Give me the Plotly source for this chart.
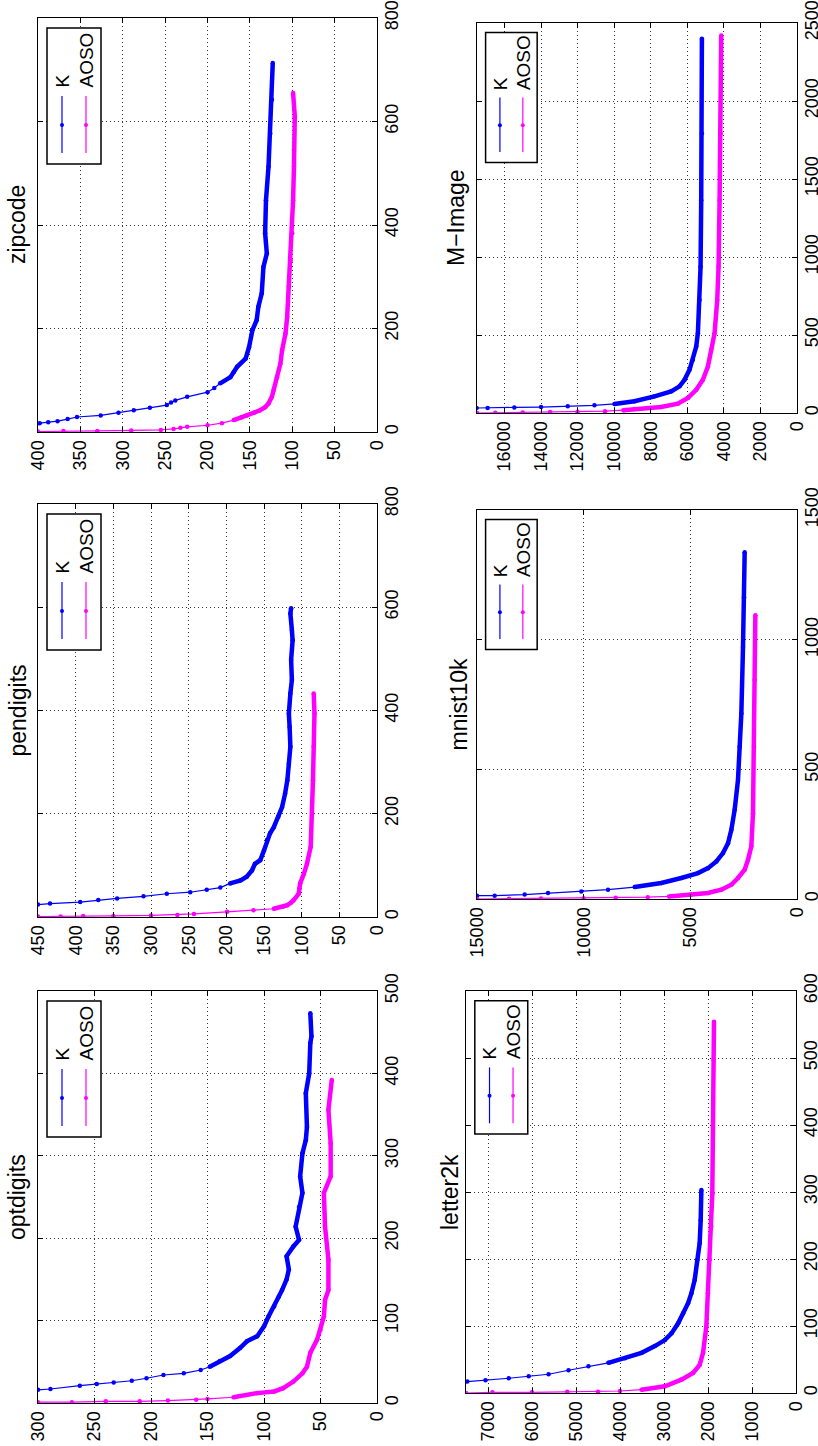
import plotly.graph_objects as go

W, H = 818, 1446
BLUE = "#0000FF"
MAG = "#FF00FF"
FONT = "Liberation Sans, Arial, Helvetica, sans-serif"

# ------------------------------------------------------------------ data
# each series: iteration index (it) and test-error value (val)
zip_k_it = [17, 19, 21, 25, 29, 32, 37, 42, 47, 52, 57, 61, 68, 77, 85, 94, 106, 116, 126, 142, 164, 197, 216, 242, 268, 319, 345, 384, 448, 513, 577, 642, 713]
zip_k_val = [398, 388, 377, 365, 354, 326, 305, 287, 268, 248, 243, 238, 224, 200, 192, 185, 173, 169, 165, 155, 151, 147, 142, 140, 136, 134, 130, 132, 131, 128, 126, 124, 123]
zip_a_it = [1, 2, 2, 3, 4, 6, 8, 10, 13, 17, 23, 28, 32, 37, 42, 48, 55, 68, 81, 106, 132, 158, 190, 222, 281, 332, 384, 448, 513, 545, 610, 655]
zip_a_val = [400, 370, 330, 290, 255, 240, 232, 224, 200, 183, 169, 160, 153, 145, 138, 132, 128, 124, 122, 118, 114, 112, 108, 106, 104, 102, 100, 99, 98, 98, 97, 99]

pen_k_it = [24, 26, 29, 33, 36, 40, 45, 48, 53, 57, 65, 71, 78, 90, 103, 110, 129, 149, 162, 174, 194, 213, 239, 265, 297, 330, 368, 394, 433, 459, 498, 536, 556, 588, 598]
pen_k_val = [450, 434, 394, 370, 345, 310, 279, 248, 226, 208, 195, 181, 173, 166, 162, 155, 150, 146, 142, 137, 131, 126, 122, 119, 117, 115, 116, 117, 115, 113, 114, 112, 113, 115, 114]
pen_a_it = [1, 1, 2, 2, 3, 4, 6, 10, 13, 16, 20, 23, 28, 32, 45, 55, 65, 84, 103, 136, 200, 265, 330, 394, 433]
pen_a_val = [450, 420, 390, 350, 300, 265, 243, 199, 164, 137, 125, 119, 114, 111, 104, 103, 102, 97, 93, 88, 86, 85, 84, 83, 84]

opt_k_it = [16, 17, 21, 23, 25, 27, 30, 34, 36, 40, 44, 51, 57, 67, 75, 81, 93, 105, 117, 129, 137, 150, 162, 178, 190, 198, 214, 238, 255, 275, 303, 319, 335, 376, 400, 437, 445, 473]
opt_k_val = [300, 289, 263, 248, 233, 217, 204, 189, 171, 156, 148, 139, 130, 121, 115, 106, 100, 96, 91, 87, 84, 80, 78, 80, 74, 69, 72, 69, 66, 68, 66, 63, 62, 63, 60, 59, 58, 59]
opt_a_it = [1, 1, 2, 2, 3, 4, 5, 7, 12, 14, 18, 26, 36, 44, 61, 77, 89, 105, 125, 137, 174, 214, 255, 275, 315, 356, 392]
opt_a_val = [300, 270, 240, 210, 185, 160, 150, 127, 106, 91, 83, 74, 66, 62, 59, 53, 50, 47, 46, 43, 43, 46, 47, 41, 41, 43, 40]

let_k_it = [17, 19, 22, 25, 28, 34, 40, 45, 52, 60, 70, 79, 89, 104, 119, 134, 149, 169, 199, 224, 258, 303]
let_k_val = [7470, 7057, 6528, 6075, 5623, 5170, 4717, 4264, 3887, 3509, 3208, 2981, 2830, 2679, 2566, 2453, 2377, 2302, 2241, 2189, 2166, 2151]
let_a_it = [0, 1, 1, 2, 2, 3, 5, 10, 20, 30, 42, 60, 99, 149, 199, 248, 298, 397, 497, 554]
let_a_val = [7500, 6900, 6000, 5200, 4500, 4000, 3509, 2981, 2604, 2340, 2189, 2113, 2038, 2000, 1962, 1925, 1902, 1887, 1872, 1864]

mni_k_it = [13, 13, 17, 23, 29, 36, 46, 62, 81, 100, 119, 145, 177, 215, 267, 344, 459, 587, 715, 972, 1164, 1337]
mni_k_val = [15000, 14172, 12766, 11672, 10109, 8859, 7609, 6359, 5422, 4641, 4172, 3781, 3469, 3234, 3078, 2922, 2766, 2688, 2609, 2531, 2484, 2453]
mni_a_it = [0, 1, 2, 3, 5, 7, 10, 17, 23, 36, 55, 81, 113, 151, 203, 331, 587, 844, 1094]
mni_a_val = [15000, 13500, 12000, 10000, 8500, 7000, 6000, 4953, 4172, 3547, 3078, 2766, 2453, 2297, 2141, 2063, 2016, 1984, 1953]

mim_k_it = [32, 32, 36, 38, 43, 49, 58, 75, 107, 139, 171, 213, 277, 341, 426, 512, 725, 938, 1364, 1791, 2399]
mim_k_val = [17520, 16918, 15458, 13998, 12538, 11078, 9983, 8888, 7793, 6880, 6424, 6150, 5877, 5694, 5512, 5420, 5329, 5274, 5238, 5201, 5201]
mim_a_it = [0, 2, 4, 6, 8, 12, 18, 26, 38, 60, 96, 149, 213, 298, 405, 512, 725, 938, 1364, 1791, 2420]
mim_a_val = [17500, 16500, 15000, 13500, 12000, 10500, 9500, 8888, 7428, 6515, 5968, 5512, 5147, 4873, 4690, 4508, 4362, 4289, 4234, 4179, 4143]

# tick values
zip_val_ticks = [0, 50, 100, 150, 200, 250, 300, 350, 400]
zip_it_ticks = [0, 200, 400, 600, 800]
pen_val_ticks = [0, 50, 100, 150, 200, 250, 300, 350, 400, 450]
pen_it_ticks = [0, 200, 400, 600, 800]
opt_val_ticks = [0, 50, 100, 150, 200, 250, 300]
opt_it_ticks = [0, 100, 200, 300, 400, 500]
let_val_ticks = [0, 1000, 2000, 3000, 4000, 5000, 6000, 7000]
let_it_ticks = [0, 100, 200, 300, 400, 500, 600]
mni_val_ticks = [0, 5000, 10000, 15000]
mni_it_ticks = [0, 500, 1000, 1500]
mim_val_ticks = [0, 2000, 4000, 6000, 8000, 10000, 12000, 14000, 16000]
mim_it_ticks = [0, 500, 1000, 1500, 2000, 2500]

series_names = ["K", "AOSO"]

# ------------------------------------------------------------------ layout config
panels = [
    dict(title="zipcode", frame=(38, 377, 18, 432), vmax=400, imax=800,
         vt=zip_val_ticks, itt=zip_it_ticks, k=(zip_k_it, zip_k_val), a=(zip_a_it, zip_a_val), thick=(100, 25), leg=1.0, tdx=21),
    dict(title="pendigits", frame=(38, 377, 504, 917), vmax=450, imax=800,
         vt=pen_val_ticks, itt=pen_it_ticks, k=(pen_k_it, pen_k_val), a=(pen_a_it, pen_a_val), thick=(70, 20), leg=1.0, tdx=21),
    dict(title="optdigits", frame=(38, 377, 991, 1403), vmax=300, imax=500,
         vt=opt_val_ticks, itt=opt_it_ticks, k=(opt_k_it, opt_k_val), a=(opt_a_it, opt_a_val), thick=(45, 12), leg=1.0, tdx=21),
    dict(title="M\u2212Image", frame=(477, 797, 23, 413), vmax=17500, imax=2500,
         vt=mim_val_ticks, itt=mim_it_ticks, k=(mim_k_it, mim_k_val), a=(mim_a_it, mim_a_val), thick=(60, 20), leg=0.955, tdx=21),
    dict(title="mnist10k", frame=(477, 797, 510, 899), vmax=15000, imax=1500,
         vt=mni_val_ticks, itt=mni_it_ticks, k=(mni_k_it, mni_k_val), a=(mni_a_it, mni_a_val), thick=(60, 15), leg=0.955, tdx=19),
    dict(title="letter2k", frame=(466, 796, 991, 1393), vmax=7500, imax=600,
         vt=let_val_ticks, itt=let_it_ticks, k=(let_k_it, let_k_val), a=(let_a_it, let_a_val), thick=(50, 8), leg=0.98, tdx=16),
]


def px(x):
    return x / W


def py(y):
    return 1 - y / H


fig = go.Figure()
layout = dict(
    width=W, height=H, autosize=False,
    margin=dict(l=0, r=0, t=0, b=0, pad=0, autoexpand=False),
    paper_bgcolor="white", plot_bgcolor="white",
    showlegend=False,
    font=dict(family=FONT, size=18, color="black"),
)
shapes = []
annotations = []

for i, p in enumerate(panels, start=1):
    L, R, T, B = p["frame"]
    xa = "x" if i == 1 else f"x{i}"
    ya = "y" if i == 1 else f"y{i}"
    axis_common = dict(
        showline=True, linecolor="black", linewidth=1.3, mirror="ticks",
        ticks="inside", ticklen=5, tickcolor="black",
        showgrid=True, gridcolor="#333333", gridwidth=1, griddash="1px,3px",
        zeroline=False, tickangle=-90, automargin=False,
        tickfont=dict(family=FONT, size=18, color="black"),
    )
    layout["xaxis" if i == 1 else f"xaxis{i}"] = dict(
        axis_common, domain=[px(L), px(R)], range=[p["vmax"], 0],
        tickvals=p["vt"], ticktext=[str(v) for v in p["vt"]],
        anchor=ya, side="bottom", ticklabelstandoff=0,
    )
    layout["yaxis" if i == 1 else f"yaxis{i}"] = dict(
        axis_common, domain=[py(B), py(T)], range=[0, p["imax"]],
        tickvals=p["itt"], ticktext=[str(v) for v in p["itt"]],
        anchor=xa, side="right", ticklabelstandoff=-2,
    )

    for (its, vals), color, thr in ((p["k"], BLUE, p["thick"][0]), (p["a"], MAG, p["thick"][1])):
        fig.add_trace(go.Scatter(
            x=vals, y=its, xaxis=xa, yaxis=ya, mode="lines+markers",
            line=dict(color=color, width=1.2),
            marker=dict(color=color, size=4.5),
            hoverinfo="skip", cliponaxis=True,
        ))
        start = next((j for j, v in enumerate(its) if v >= thr), len(its) - 1)
        start = max(start - 1, 0)
        fig.add_trace(go.Scatter(
            x=vals[start:], y=its[start:], xaxis=xa, yaxis=ya, mode="lines",
            line=dict(color=color, width=4.5),
            hoverinfo="skip", cliponaxis=True,
        ))

    # title (rotated like the whole figure)
    annotations.append(dict(
        text=p["title"], xref="paper", yref="paper",
        x=px(L - p["tdx"]), y=py((T + B) / 2), xanchor="center", yanchor="middle",
        textangle=-90, showarrow=False, font=dict(family=FONT, size=23, color="black"),
    ))

    # hand-drawn legend box (rotated)
    s = p["leg"]
    bl, bt = L + 9 * s, T + 10 * s
    bw, bh = 54 * s, 136 * s
    shapes.append(dict(type="rect", xref="paper", yref="paper",
                       x0=px(bl), x1=px(bl + bw), y0=py(bt + bh), y1=py(bt),
                       line=dict(color="black", width=1.5), fillcolor="white", layer="above"))
    for name, color, lx in ((series_names[0], BLUE, 15 * s), (series_names[1], MAG, 39 * s)):
        shapes.append(dict(type="line", xref="paper", yref="paper",
                           x0=px(bl + lx), x1=px(bl + lx), y0=py(bt + 68 * s), y1=py(bt + 125 * s),
                           line=dict(color=color, width=1.2), layer="above"))
        shapes.append(dict(type="circle", xref="paper", yref="paper",
                           x0=px(bl + lx - 2), x1=px(bl + lx + 2), y0=py(bt + 97 * s + 2), y1=py(bt + 97 * s - 2),
                           line=dict(color=color, width=0), fillcolor=color, layer="above"))
        annotations.append(dict(
            text=name, xref="paper", yref="paper",
            x=px(bl + lx), y=py(bt + 62 * s), xanchor="center", yanchor="bottom",
            textangle=-90, showarrow=False, font=dict(family=FONT, size=19, color="black"),
        ))

layout["shapes"] = shapes
layout["annotations"] = annotations
fig.update_layout(**layout)
fig.write_html("out.html", config={"responsive": False, "displayModeBar": False},
               post_script="document.body.style.margin='0';document.body.style.overflow='hidden';")
